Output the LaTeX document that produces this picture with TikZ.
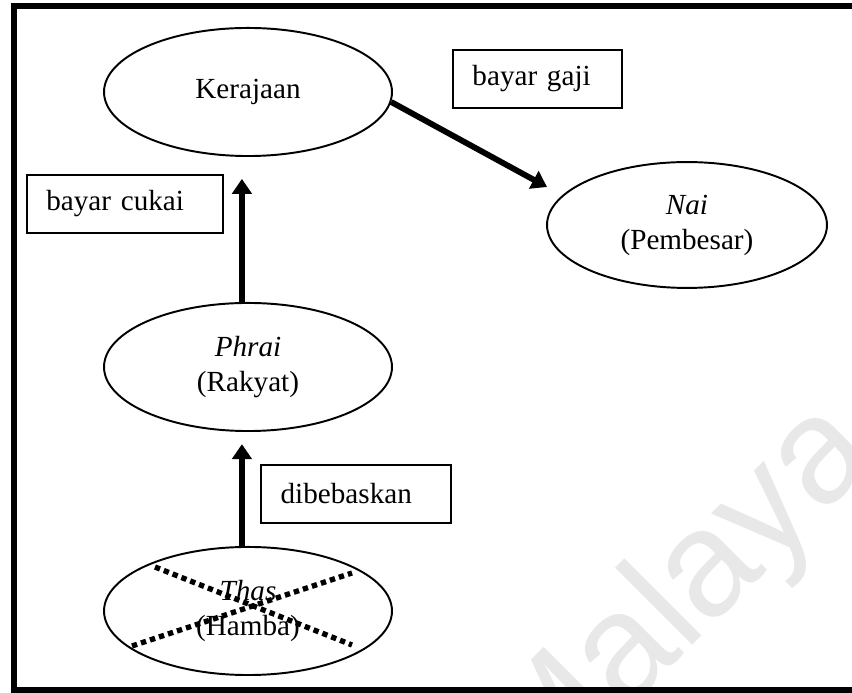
\documentclass[tikz,border=0pt]{standalone}
\usepackage{fontspec}
\setmainfont{Liberation Serif}
\newfontfamily\marksans{Liberation Sans}
\usetikzlibrary{shapes.geometric,arrows.meta}

\begin{document}
\begin{tikzpicture}[x=0.4115pt, y=-0.4115pt,
    every node/.style={font=\fontsize{12}{14.4}\selectfont},
    oval/.style={ellipse, draw, line width=0.8pt, minimum width=118.5pt, minimum height=52.7pt, align=center, inner sep=0pt},
    labelbox/.style={draw, line width=0.6pt, minimum height=23.9pt, inner xsep=8pt, align=left},
    flow/.style={line width=2.4pt, -{Triangle[width=8pt,length=6.2pt]}},
    crossout/.style={line width=2.2pt, dash pattern=on 2.2pt off 1.7pt}]
    \useasboundingbox (0,0) rectangle (852,693);

    % watermark and frame
    \node[text=black!9, font=\marksans\fontsize{62}{62}\selectfont, rotate=45, anchor=base west] (mark) at (531,807) {Malaya};
    \draw[line width=2.5pt] (14,6) rectangle (875,690.5);

    \node[oval] (kerajaan) at (248,92) {Kerajaan};
    \node[oval, minimum width=115.2pt, minimum height=51.8pt] (nai) at (687,225) {\textit{Nai}\\(Pembesar)};
    \node[oval] (phrai) at (248,367) {\textit{Phrai}\\(Rakyat)};
    \node[oval] (thas) at (248,611) {\textit{Thas}\\(Hamba)};

    \node[labelbox, text width=53.5pt] (gaji) at (537.5,79) {bayar gaji};
    \node[labelbox, text width=64.7pt] (cukai) at (125,204) {bayar cukai};
    \node[labelbox, text width=62pt] (bebas) at (356,494) {dibebaskan};

    \coordinate (naitip) at (547,187);
    \draw[flow] (kerajaan.-4) -- (naitip);
    \draw[flow, shorten >=9pt] ([xshift=-2.5pt]phrai.north) -- ([xshift=-2.5pt]kerajaan.south);
    \draw[flow, shorten >=5pt] ([xshift=-2.5pt]thas.north) -- ([xshift=-2.5pt]phrai.south);

    % thas crossed out
    \draw[crossout] (155,567) -- (352,645);
    \draw[crossout] (132,646) -- (352,573);
\end{tikzpicture}
\end{document}
